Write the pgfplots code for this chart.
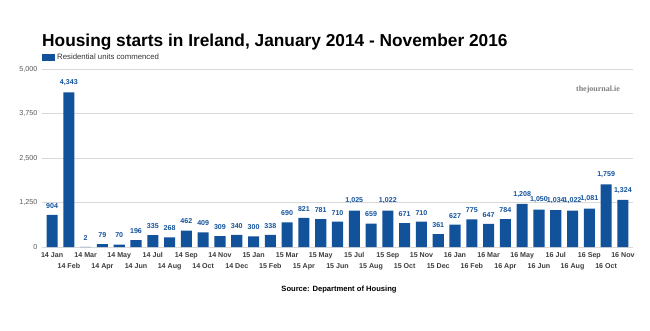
\documentclass[border=0pt]{standalone}
\usepackage{fontspec}
\setmainfont{Liberation Sans}
\newfontfamily\wmfont{Liberation Serif}
\usepackage{pgfplots}
\pgfplotsset{compat=1.18}
\definecolor{barblue}{RGB}{18,82,155}
\definecolor{ticktext}{RGB}{60,60,60}
\begin{document}
\begin{tikzpicture}
\path[use as bounding box] (0,0) rectangle (650pt,330pt);
\begin{axis}[
  at={(42pt,83pt)}, anchor=south west,
  width=591pt, height=178pt, scale only axis,
  xmin=-0.6, xmax=34.6, ymin=0, ymax=5000,
  ytick={0,1250,2500,3750,5000},
  ymajorgrids, grid style={gray!30, line width=0.6pt},
  axis line style={draw=none},
  major tick length=0pt,
  /pgf/number format/assume math mode=true,
  /pgf/number format/1000 sep={,},
  yticklabel style={font=\fontsize{7.2}{8}\selectfont, text=black!65, xshift=-1pt},
  xtick={0,2,...,34},
  xticklabels={14 Jan,14 Mar,14 May,14 Jul,14 Sep,14 Nov,15 Jan,15 Mar,15 May,15 Jul,15 Sep,15 Nov,16 Jan,16 Mar,16 May,16 Jul,16 Sep,16 Nov},
  xticklabel style={font=\bfseries\fontsize{7.1}{8}\selectfont, text=ticktext, yshift=-2pt},
  extra x ticks={1,3,...,33},
  extra x tick labels={14 Feb,14 Apr,14 Jun,14 Aug,14 Oct,14 Dec,15 Feb,15 Apr,15 Jun,15 Aug,15 Oct,15 Dec,16 Feb,16 Apr,16 Jun,16 Aug,16 Oct},
  extra x tick style={grid=none, xticklabel style={yshift=-11pt}},
  nodes near coords,
  nodes near coords style={font=\bfseries\fontsize{7.1}{8}\selectfont, text=barblue, yshift=3pt},
  legend style={at={(rel axis cs:0,1)}, anchor=south west, draw=none, fill=none,
    font=\fontsize{7.8}{9}\selectfont, text=black!80, xshift=0pt, yshift=6pt, inner sep=0pt,
    legend cell align=left},
  legend image code/.code={\fill[barblue] (0pt,-3.5pt) rectangle (13pt,3.5pt);},
]
\addplot[ybar, bar width=0.66, fill=barblue, draw=none] coordinates {
(0,904) (1,4343) (2,2) (3,79) (4,70) (5,196) (6,335) (7,268) (8,462) (9,409) (10,309) (11,340)
(12,300) (13,338) (14,690) (15,821) (16,781) (17,710) (18,1025) (19,659) (20,1022) (21,671) (22,710) (23,361)
(24,627) (25,775) (26,647) (27,784) (28,1208) (29,1050) (30,1034) (31,1022) (32,1081) (33,1759) (34,1324)
};
\addlegendentry{Residential units commenced}
\end{axis}
\node[anchor=base west, font=\bfseries\fontsize{17.3}{19}\selectfont, inner sep=0pt] at (42pt,283pt) {Housing starts in Ireland, January 2014 - November 2016};
\node[anchor=base, font=\bfseries\fontsize{7.6}{9}\selectfont, inner sep=0pt] at (339pt,39pt) {Source: Department of Housing};
\node[anchor=base, font=\wmfont\bfseries\fontsize{8}{9}\selectfont, text=gray, inner sep=0pt] at (598pt,239pt) {thejournal.ie};
\end{tikzpicture}
\end{document}
